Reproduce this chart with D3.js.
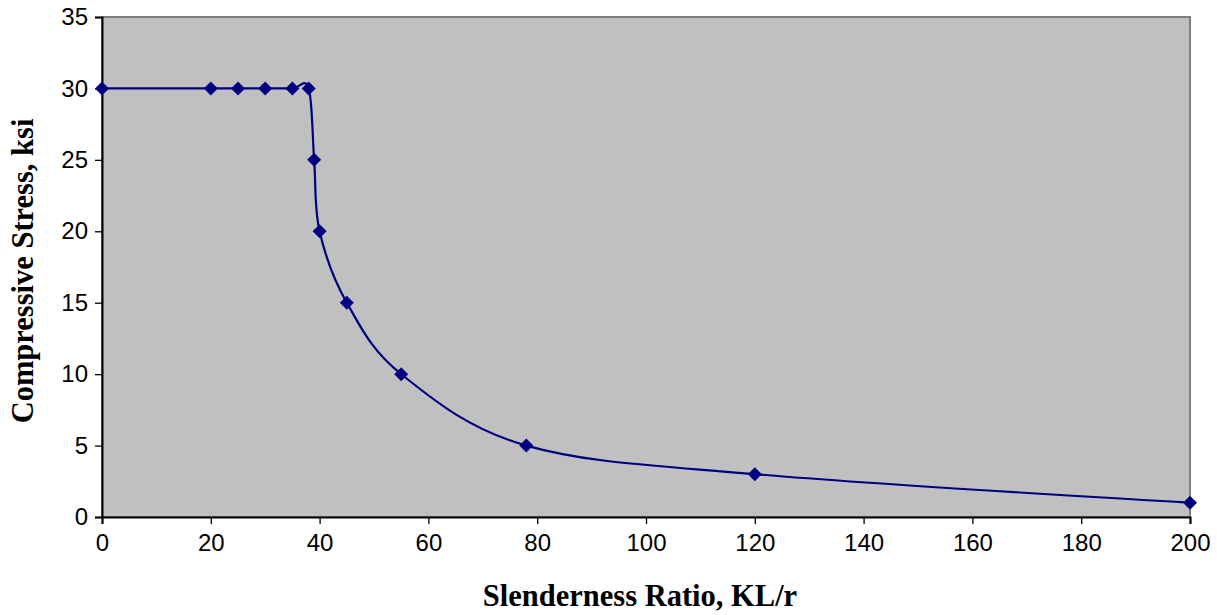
<!DOCTYPE html>
<html><head><meta charset="utf-8">
<script src="https://cdn.jsdelivr.net/npm/d3@7"></script>
<style>body{margin:0;background:#fff}</style>
</head><body>
<svg id="c" width="1217" height="615"></svg>
<script>
const slenderness = [0,20,25,30,35,38,39,40,45,55,78,120,200];
const stress = [30,30,30,30,30,30,25,20,15,10,5,3,1];
const xTicks = [0,20,40,60,80,100,120,140,160,180,200];
const yTicks = [0,5,10,15,20,25,30,35];
const xTitle = "Slenderness Ratio, KL/r";
const yTitle = "Compressive Stress, ksi";

const svg = d3.select("#c");
const L=102,R=1190,T=17,B=517;
const x = d3.scaleLinear().domain([0,200]).range([L,R]);
const y = d3.scaleLinear().domain([0,35]).range([B,T]);

svg.append("rect").attr("x",L).attr("y",T).attr("width",R-L).attr("height",B-T)
  .attr("fill","#c0c0c0").attr("stroke","#808080").attr("stroke-width",2);

const fontTick = "'Liberation Sans', Arial, sans-serif";
const ya = svg.append("g").attr("transform",`translate(${L},0)`)
  .call(d3.axisLeft(y).tickValues(yTicks).tickSize(7).tickPadding(7).tickFormat(d3.format("d")));
const xa = svg.append("g").attr("transform",`translate(0,${B})`)
  .call(d3.axisBottom(x).tickValues(xTicks).tickSize(7).tickPadding(10).tickFormat(d3.format("d")));
[ya,xa].forEach(a=>{
  a.selectAll("text").attr("font-family",fontTick).attr("font-size",24).attr("fill","#000");
  a.select(".domain").attr("stroke","#000").attr("stroke-width",2);
  a.selectAll(".tick line").attr("stroke","#000").attr("stroke-width",1.3);
});

const pts = slenderness.map((v,i)=>[v,stress[i]]);
const line = d3.line().x(d=>x(d[0])).y(d=>y(d[1])).curve(d3.curveCatmullRom.alpha(0));
svg.append("path").attr("d",line(pts)).attr("fill","none").attr("stroke","#000080").attr("stroke-width",2.2);

const sym = d3.symbol().type(d3.symbolSquare).size(98);
svg.selectAll(".m").data(pts).enter().append("path")
  .attr("d",sym).attr("transform",d=>`translate(${x(d[0])},${y(d[1])}) rotate(45)`)
  .attr("fill","#000080");

svg.append("text").attr("x",(L+R)/2 - 6).attr("y",606).attr("text-anchor","middle")
  .attr("font-family","'Liberation Serif','Times New Roman',serif").attr("font-weight","bold")
  .attr("font-size",30.5).text(xTitle);
svg.append("text").attr("transform",`translate(33,${(T+B)/2 + 4}) rotate(-90)`).attr("text-anchor","middle")
  .attr("font-family","'Liberation Serif','Times New Roman',serif").attr("font-weight","bold")
  .attr("font-size",30.5).text(yTitle);
</script>
</body></html>
